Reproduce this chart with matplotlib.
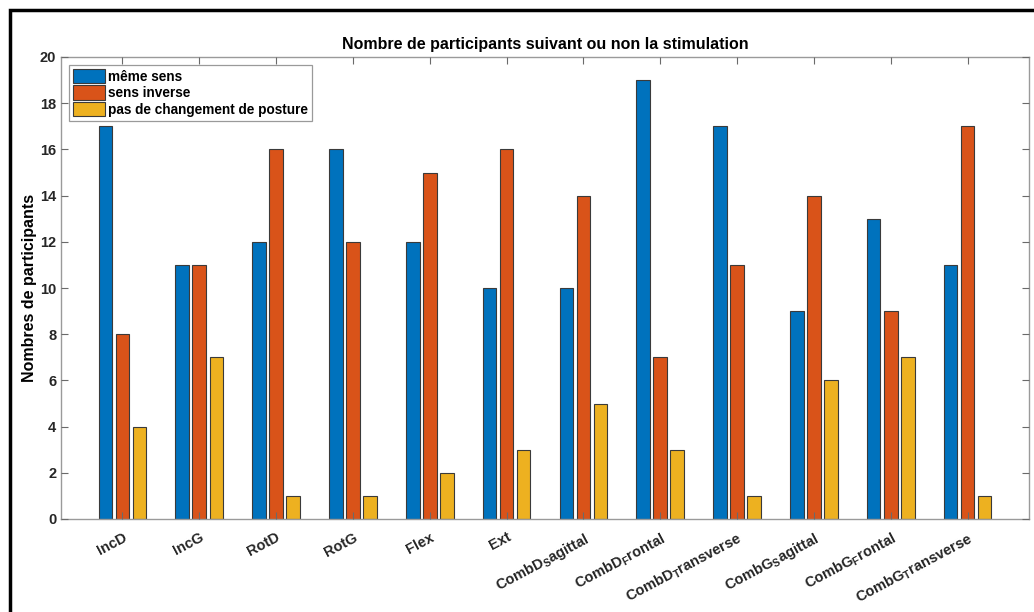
import numpy as np
import matplotlib
matplotlib.use("Agg")
import matplotlib.pyplot as plt
from matplotlib.patches import Rectangle

plt.rcParams['font.family'] = ['Liberation Sans', 'DejaVu Sans']
plt.rcParams['font.weight'] = 'bold'
plt.rcParams['mathtext.default'] = 'regular'

categories = ["IncD", "IncG", "RotD", "RotG", "Flex", "Ext",
              r"CombD$_{S}$agittal", r"CombD$_{F}$rontal", r"CombD$_{T}$ransverse",
              r"CombG$_{S}$agittal", r"CombG$_{F}$rontal", r"CombG$_{T}$ransverse"]
meme_sens = [17, 11, 12, 16, 12, 10, 10, 19, 17, 9, 13, 11]
sens_inverse = [8, 11, 16, 12, 15, 16, 14, 7, 11, 14, 9, 17]
pas_changement = [4, 7, 1, 1, 2, 3, 5, 3, 1, 6, 7, 1]
series_names = ["même sens", "sens inverse", "pas de changement de posture"]
colors = ["#0072BD", "#D95319", "#EDB120"]

fig = plt.figure(figsize=(10.34, 6.12), dpi=100)
ax = fig.add_axes([61 / 1034, 1 - 519 / 612, 968 / 1034, 462 / 612])

x = np.arange(1, len(categories) + 1)
offsets = [-0.222, 0, 0.222]
width = 0.178
for vals, off, col, name in zip([meme_sens, sens_inverse, pas_changement], offsets, colors, series_names):
    ax.bar(x + off, vals, width=width, color=col, edgecolor="#3a3a3a", linewidth=0.8, label=name, zorder=2)

ax.set_axisbelow(False)
ax.set_xlim(0.2, 12.8)
ax.set_ylim(0, 20)
ax.set_yticks(np.arange(0, 21, 2))
ax.set_xticks(x)
ax.set_xticklabels(categories, rotation=28, ha="right", rotation_mode="anchor",
                   fontsize=10.5, fontweight="bold", color="#262626")
ax.tick_params(axis="both", which="both", direction="in", length=5, width=0.8,
               color="#6a6a6a", top=True, right=True, labelsize=10.5, labelcolor="#262626")
ax.tick_params(axis="x", pad=8)
for sp in ax.spines.values():
    sp.set_color("#9a9a9a")
    sp.set_linewidth(1.0)
for lbl in ax.get_yticklabels():
    lbl.set_fontweight("bold")

ax.set_title("Nombre de participants suivant ou non la stimulation",
             fontsize=11.5, fontweight="bold", pad=6, color="black")
ax.set_ylabel("Nombres de participants", fontsize=11.5, fontweight="bold", labelpad=0, color="black")
ax.yaxis.set_label_coords(-24 / 968, 0.5)

leg = ax.legend(loc="upper left", bbox_to_anchor=(0.008, 0.983), fontsize=9.8,
                frameon=True, fancybox=False, framealpha=1, edgecolor="#9a9a9a",
                handlelength=2.4, handleheight=1.25, handletextpad=0.2,
                labelspacing=0.12, borderpad=0.3, borderaxespad=0)
leg.get_frame().set_linewidth(0.9)
for t in leg.get_texts():
    t.set_fontweight("bold")

# outer frame around the figure
fig.patches.append(Rectangle((9.5 / 1034, -0.05), 1.1, 1 - 9.5 / 612 + 0.05,
                             transform=fig.transFigure, fill=False,
                             edgecolor="black", linewidth=2.5, zorder=10))

fig.savefig("out.png", dpi=100, facecolor="white")
